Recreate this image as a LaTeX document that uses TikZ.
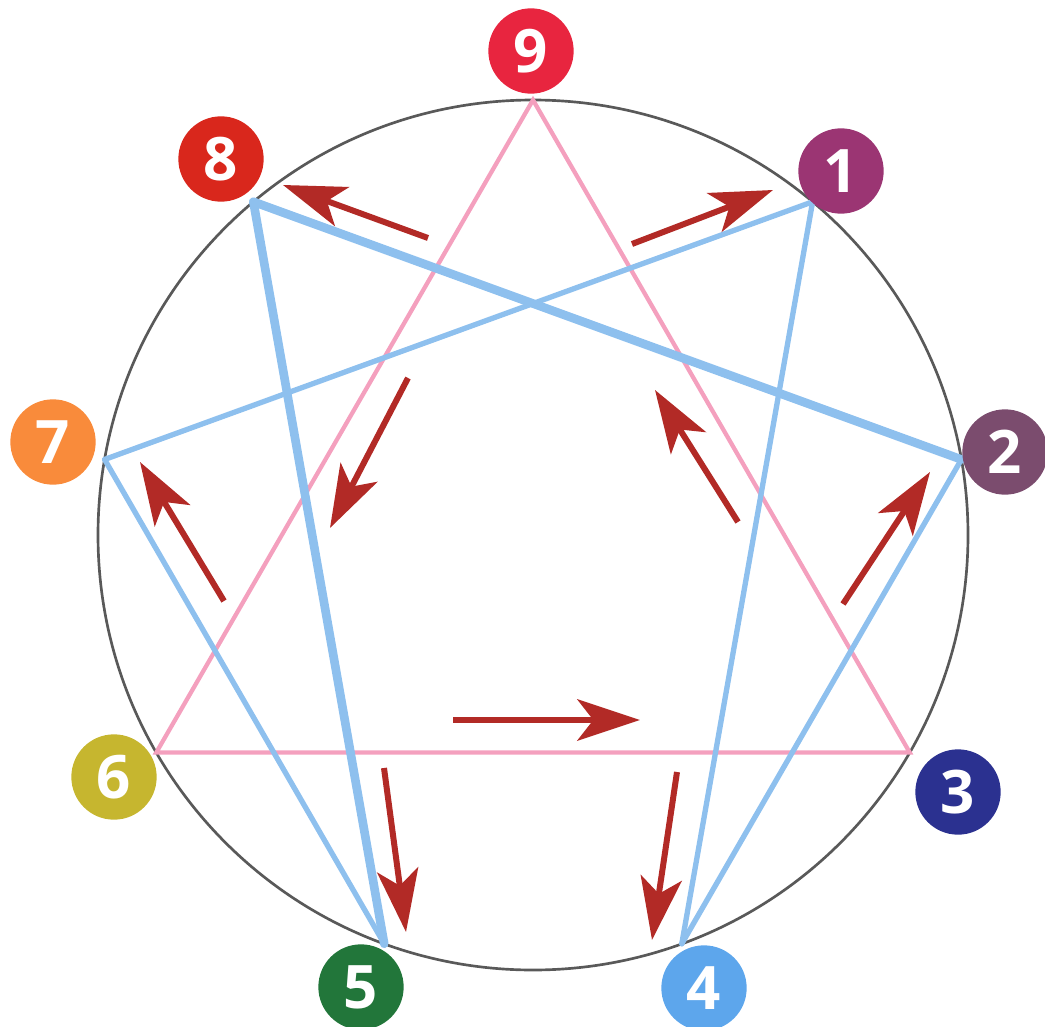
\documentclass[tikz,border=0pt]{standalone}
\usepackage{fontspec}
\setmainfont{Open Sans}
\usetikzlibrary{arrows.meta}

\definecolor{cNine}{HTML}{E8253F}
\definecolor{cEight}{HTML}{D9271C}
\definecolor{cOne}{HTML}{9B3573}
\definecolor{cTwo}{HTML}{7B4C6E}
\definecolor{cThree}{HTML}{2B3190}
\definecolor{cFour}{HTML}{5DA6EC}
\definecolor{cFive}{HTML}{22763A}
\definecolor{cSix}{HTML}{C6B62F}
\definecolor{cSeven}{HTML}{F98B3B}
\definecolor{pinkline}{HTML}{F4A0BE}
\definecolor{blueline}{HTML}{8EC0EE}
\definecolor{arrowred}{HTML}{B22A26}

\tikzset{every picture/.style={line width=0.75pt}}

\begin{document}
\begin{tikzpicture}[x=0.75pt,y=0.75pt,yscale=-1,xscale=1,
  badge/.style={circle,minimum size=64pt,inner sep=0pt,text=white,font=\fontsize{45}{45}\selectfont\bfseries},
  triad/.style={pinkline,line width=3.2pt},
  hexad/.style={blueline,line width=4pt,line cap=round},
  hexadthick/.style={blueline,line width=6.5pt,line cap=round},
  dirarrow/.style={arrowred,line width=4.5pt,-{Stealth[length=47pt,width=31pt,inset=12pt]}}]
\useasboundingbox (0,0) rectangle (1045,1027);

%Circle
\draw [black!65,line width=2pt] (533,535) circle [radius=435];

%Points on the circle
\foreach \k in {1,...,9}
  \path (533,535) ++(40*\k-90:435) coordinate (p\k);

%Triangle 9-3-6
\draw [triad] (p9) -- (p3) -- (p6) -- cycle;

%Hexad 1-4-2-8-5-7
\draw [hexad] (p1) -- (p4);
\draw [hexad] (p4) -- (p2);
\draw [hexadthick] (p2) -- (p8);
\draw [hexadthick] (p8) -- (p5);
\draw [hexad] (p5) -- (p7);
\draw [hexad] (p7) -- (p1);

%Direction arrows
\draw [dirarrow] (428,238) -- (283,185);
\draw [dirarrow] (632,244) -- (773,190);
\draw [dirarrow] (408,378) -- (330,528);
\draw [dirarrow] (738,522) -- (655,390);
\draw [dirarrow] (224,601) -- (140,462);
\draw [dirarrow] (843,604) -- (930,472);
\draw [dirarrow] (453,720) -- (640,720);
\draw [dirarrow] (384,768) -- (406,932);
\draw [dirarrow] (677,772) -- (652,940);

%Badges
\node [badge,fill=cNine] (b9) at (531,51) {9};
\node [badge,fill=cEight] (b8) at (221,159) {8};
\node [badge,fill=cOne] (b1) at (841,171) {1};
\node [badge,fill=cTwo] (b2) at (1005,452) {2};
\node [badge,fill=cThree] (b3) at (958,792) {3};
\node [badge,fill=cFour] (b4) at (704,988) {4};
\node [badge,fill=cFive] (b5) at (361,987) {5};
\node [badge,fill=cSix] (b6) at (114,777) {6};
\node [badge,fill=cSeven] (b7) at (53,442) {7};
\end{tikzpicture}
\end{document}
